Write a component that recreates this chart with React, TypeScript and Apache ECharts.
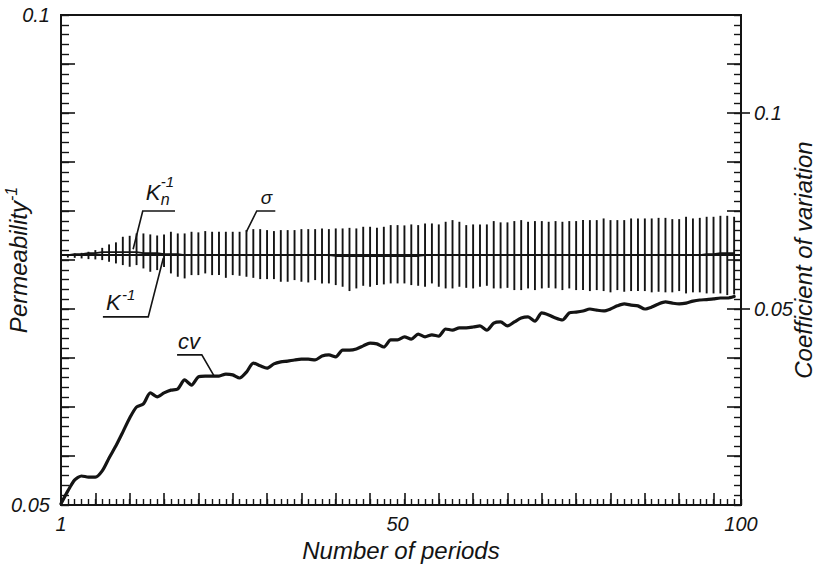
import React, { useEffect, useRef } from "react";
import * as echarts from "echarts";

// ---------------- data ----------------
const PERIODS: number[] = Array.from({ length: 99 }, (_, i) => i + 1);

const CV: number[] = [
  0.0003, 0.0036, 0.0064, 0.0074, 0.0071, 0.0071, 0.0087, 0.012, 0.0151, 0.0186,
  0.0222, 0.025, 0.0258, 0.0286, 0.0276, 0.0286, 0.0293, 0.0296, 0.0319, 0.0306,
  0.0327, 0.0329, 0.0329, 0.0329, 0.0334, 0.0332, 0.0324, 0.0339, 0.0362, 0.0355,
  0.0349, 0.036, 0.0365, 0.0367, 0.037, 0.0372, 0.0372, 0.037, 0.038, 0.0383,
  0.0378, 0.0395, 0.0395, 0.0398, 0.0406, 0.0413, 0.0411, 0.0403, 0.0421, 0.0421,
  0.0429, 0.0423, 0.0436, 0.0429, 0.0434, 0.0431, 0.0449, 0.0446, 0.0452, 0.0452,
  0.0454, 0.0457, 0.0446, 0.0464, 0.0467, 0.0457, 0.0467, 0.0477, 0.048, 0.0469,
  0.049, 0.0485, 0.0477, 0.0472, 0.049, 0.0492, 0.0495, 0.05, 0.0497, 0.0495,
  0.05, 0.0508, 0.0513, 0.051, 0.0508, 0.05, 0.0505, 0.0513, 0.0518, 0.0515,
  0.0513, 0.0515, 0.052, 0.0523, 0.0524, 0.0526, 0.0528, 0.0528, 0.0532,
];

const K_INV = 0.0755;
const K_INV_RANGE = [1, 100];

const KN_INV: number[] = [
  0.0755, 0.0755, 0.0756, 0.0756, 0.0757, 0.0757, 0.0758, 0.0758, 0.0758, 0.0758,
  0.0758, 0.0758, 0.0757, 0.0757, 0.0757, 0.0756, 0.0756, 0.0756, 0.0755, 0.0755,
  0.0755, 0.0755, 0.0755, 0.0755, 0.0755, 0.0755, 0.0755, 0.0755, 0.0755, 0.0755,
  0.0755, 0.0755, 0.0755, 0.0755, 0.0755, 0.0755, 0.0755, 0.0755, 0.0755, 0.0755,
  0.0754, 0.0754, 0.0754, 0.0754, 0.0754, 0.0754, 0.0754, 0.0754, 0.0754, 0.0754,
  0.0754, 0.0754, 0.0754, 0.0755, 0.0755, 0.0755, 0.0755, 0.0755, 0.0755, 0.0755,
  0.0755, 0.0755, 0.0755, 0.0755, 0.0755, 0.0755, 0.0755, 0.0755, 0.0755, 0.0755,
  0.0755, 0.0755, 0.0755, 0.0755, 0.0755, 0.0755, 0.0755, 0.0755, 0.0755, 0.0755,
  0.0755, 0.0755, 0.0755, 0.0755, 0.0755, 0.0755, 0.0755, 0.0755, 0.0755, 0.0755,
  0.0755, 0.0755, 0.0755, 0.0755, 0.0756, 0.0756, 0.0757, 0.0757, 0.0757,
];

const SIGMA_UPPER: number[] = [
  0.07555, 0.0756, 0.07567, 0.07573, 0.07584, 0.07601, 0.07624, 0.07659, 0.0768, 0.07737,
  0.07747, 0.07771, 0.07771, 0.07761, 0.0775, 0.07761, 0.07788, 0.07771, 0.07771, 0.07788,
  0.07782, 0.07795, 0.07788, 0.07788, 0.07788, 0.07788, 0.07788, 0.07805, 0.07815, 0.07815,
  0.07805, 0.07795, 0.07805, 0.07805, 0.07805, 0.07815, 0.07815, 0.07815, 0.07822, 0.07815,
  0.07822, 0.07822, 0.07828, 0.07822, 0.07839, 0.07839, 0.07828, 0.07839, 0.07856, 0.07856,
  0.07853, 0.07863, 0.07856, 0.07873, 0.07873, 0.07863, 0.0789, 0.07907, 0.0789, 0.07856,
  0.07863, 0.07863, 0.07863, 0.07897, 0.07884, 0.07884, 0.07897, 0.07907, 0.0789, 0.07897,
  0.07897, 0.0789, 0.07897, 0.0789, 0.07897, 0.07897, 0.07907, 0.07907, 0.07907, 0.07924,
  0.07907, 0.07907, 0.07907, 0.07924, 0.07924, 0.07924, 0.07924, 0.0793, 0.0793, 0.07917,
  0.07917, 0.07941, 0.07924, 0.0793, 0.07941, 0.07941, 0.07951, 0.07951, 0.07941,
];

const SIGMA_LOWER: number[] = [
  0.07545, 0.07525, 0.07522, 0.07516, 0.07509, 0.07506, 0.07499, 0.07482, 0.07465, 0.07448,
  0.07431, 0.07448, 0.07414, 0.0738, 0.07397, 0.07428, 0.07363, 0.07329, 0.07312, 0.07346,
  0.07346, 0.07363, 0.07346, 0.07346, 0.07318, 0.07346, 0.07339, 0.07329, 0.07318, 0.07305,
  0.07305, 0.07305, 0.07278, 0.07278, 0.07295, 0.07278, 0.07271, 0.07295, 0.07261, 0.07261,
  0.07244, 0.07227, 0.07183, 0.0721, 0.07237, 0.07227, 0.07244, 0.07251, 0.07261, 0.07261,
  0.07261, 0.07244, 0.07237, 0.07227, 0.07261, 0.07227, 0.0721, 0.0721, 0.07227, 0.07216,
  0.0721, 0.07227, 0.07237, 0.0721, 0.0721, 0.07216, 0.07193, 0.07193, 0.0721, 0.07193,
  0.0721, 0.07216, 0.0721, 0.07193, 0.0721, 0.07193, 0.07193, 0.07183, 0.07193, 0.07183,
  0.0717, 0.07193, 0.07176, 0.07183, 0.07183, 0.07183, 0.0717, 0.07176, 0.0717, 0.0717,
  0.07183, 0.07159, 0.0717, 0.0717, 0.07159, 0.07159, 0.07159, 0.07142, 0.07149,
];

const X_LABELS = [1, 50, 100];
const X_MAJOR_TICKS = [1, 6, 11, 16, 21, 26, 31, 36, 41, 46, 51, 56, 61, 66, 71, 76, 81, 86, 91, 96];
const X_MINOR_TICKS: number[] = Array.from({ length: 100 }, (_, i) => i + 1);
const LEFT_LABELS = [0.05, 0.1];
const LEFT_MINOR_TICKS: number[] = Array.from({ length: 51 }, (_, i) => +(0.05 + i * 0.001).toFixed(3));
const RIGHT_LABELS = [0.05, 0.1];
const RIGHT_MINOR_TICKS: number[] = Array.from({ length: 51 }, (_, i) => +(i * 0.0025).toFixed(4));

// leader lines for the curve labels, in data coordinates (x = period, y = axis value)
const LEADERS = [
  { yAxis: 0, points: [[17.6, 0.08], [12.9, 0.08], [11.5, 0.0761]] },
  { yAxis: 0, points: [[7.1, 0.0692], [13.7, 0.0692], [15.9, 0.0752]] },
  { yAxis: 0, points: [[32.2, 0.08], [29.5, 0.08], [28.0, 0.0779]] },
  { yAxis: 1, points: [[17.9, 0.0383], [21.5, 0.0383], [23.3, 0.0329]] },
];

const INK = "#141414";
const FONT = "'Liberation Sans', 'DejaVu Sans', sans-serif";

export default function App() {
  const ref = useRef<HTMLDivElement>(null);

  useEffect(() => {
    document.body.style.margin = "0";
    const chart = echarts.init(ref.current!, null, { renderer: "svg" });

    const tickLabel = {
      color: INK,
      fontFamily: FONT,
      fontStyle: "italic" as const,
      fontSize: 20,
    };
    const nameStyle = { ...tickLabel, fontSize: 24 };

    const minorAxis = (position: string, min: number, max: number, values: number[], length: number) => ({
      type: "value",
      min,
      max,
      position,
      axisLine: { show: false },
      axisTick: { show: true, inside: true, length, customValues: values, lineStyle: { color: INK, width: 1.4 } },
      axisLabel: { show: false },
      splitLine: { show: false },
    });

    const option: any = {
      animation: false,
      backgroundColor: "#fff",
      grid: {
        show: true,
        left: 61,
        right: 86,
        top: 15,
        bottom: 63,
        outerBoundsMode: "none",
        containLabel: false,
        borderColor: INK,
        borderWidth: 2,
        backgroundColor: "transparent",
      },
      xAxis: [
        {
          type: "value",
          min: 1,
          max: 100,
          position: "bottom",
          axisLine: { show: true, lineStyle: { color: INK, width: 2 } },
          axisTick: {
            show: true,
            inside: true,
            length: 12,
            customValues: X_MAJOR_TICKS,
            lineStyle: { color: INK, width: 1.6 },
          },
          axisLabel: { ...tickLabel, customValues: X_LABELS, margin: 9 },
          splitLine: { show: false },
          name: "Number of periods",
          nameLocation: "middle",
          nameGap: 33,
          nameMoveOverlap: false,
          nameTextStyle: nameStyle,
        },
        minorAxis("bottom", 1, 100, X_MINOR_TICKS, 6),
      ],
      yAxis: [
        {
          type: "value",
          min: 0.05,
          max: 0.1,
          interval: 0.005,
          position: "left",
          axisLine: { show: true, lineStyle: { color: INK, width: 2 } },
          axisTick: { show: true, inside: true, length: 14, lineStyle: { color: INK, width: 1.6 } },
          axisLabel: {
            ...tickLabel,
            customValues: LEFT_LABELS,
            margin: 11,
            formatter: (v: number) => String(v),
          },
          splitLine: { show: false },
          name: "{a|Permeability}{b|-1}",
          nameLocation: "middle",
          nameRotate: 90,
          nameGap: 31,
          nameMoveOverlap: false,
          nameTextStyle: {
            rich: {
              a: { fontFamily: FONT, fontStyle: "italic", fontSize: 24, color: INK, lineHeight: 27, verticalAlign: "bottom" },
              b: { fontFamily: FONT, fontStyle: "italic", fontSize: 16, color: INK, lineHeight: 27, verticalAlign: "top" },
            },
          },
        },
        {
          type: "value",
          min: 0,
          max: 0.125,
          interval: 0.0125,
          position: "right",
          axisLine: { show: true, lineStyle: { color: INK, width: 2 } },
          axisTick: { show: true, inside: true, length: 14, lineStyle: { color: INK, width: 1.6 } },
          axisLabel: { show: false },
          splitLine: { show: false },
          name: "Coefficient of variation",
          nameLocation: "middle",
          nameRotate: 90,
          nameGap: 50,
          nameMoveOverlap: false,
          nameTextStyle: nameStyle,
        },
        {
          type: "value",
          min: 0,
          max: 0.125,
          position: "right",
          axisLine: { show: false },
          axisTick: {
            show: true,
            inside: false,
            length: 9,
            customValues: RIGHT_LABELS,
            lineStyle: { color: INK, width: 1.6 },
          },
          axisLabel: {
            ...tickLabel,
            customValues: RIGHT_LABELS,
            margin: 13,
            formatter: (v: number) => String(v),
          },
          splitLine: { show: false },
        },
        minorAxis("left", 0.05, 0.1, LEFT_MINOR_TICKS, 8),
        minorAxis("right", 0, 0.125, RIGHT_MINOR_TICKS, 7),
      ],
      series: [
        {
          name: "sigma",
          type: "custom",
          xAxisIndex: 0,
          yAxisIndex: 0,
          encode: { x: 0, y: [1, 2] },
          data: PERIODS.map((p, i) => [p, SIGMA_LOWER[i], SIGMA_UPPER[i]]),
          renderItem: (_params: any, api: any) => {
            const a = api.coord([api.value(0), api.value(1)]);
            const b = api.coord([api.value(0), api.value(2)]);
            return {
              type: "line",
              shape: { x1: a[0], y1: a[1], x2: b[0], y2: b[1] },
              style: { stroke: INK, lineWidth: 1.9 },
            };
          },
          silent: true,
        },
        {
          name: "K-1",
          type: "line",
          xAxisIndex: 0,
          yAxisIndex: 0,
          data: K_INV_RANGE.map((p) => [p, K_INV]),
          symbol: "none",
          lineStyle: { color: INK, width: 2 },
          silent: true,
        },
        {
          name: "Kn-1",
          type: "line",
          xAxisIndex: 0,
          yAxisIndex: 0,
          data: PERIODS.map((p, i) => [p, KN_INV[i]]),
          symbol: "none",
          lineStyle: { color: INK, width: 1.6 },
          silent: true,
        },
        {
          name: "cv",
          type: "line",
          xAxisIndex: 0,
          yAxisIndex: 1,
          data: PERIODS.map((p, i) => [p, CV[i]]),
          symbol: "none",
          smooth: 0.25,
          lineStyle: { color: INK, width: 3.2, join: "round", cap: "round" },
          silent: true,
        },
      ],
    };

    chart.setOption(option);

    const toPx = (yAxis: number, pt: number[]) =>
      chart.convertToPixel({ xAxisIndex: 0, yAxisIndex: yAxis }, pt) as number[];

    const leaderPts = LEADERS.map((l) => l.points.map((pt) => toPx(l.yAxis, pt)));

    const txt = (text: string, x: number, y: number, size: number) => ({
      type: "text",
      x,
      y,
      silent: true,
      style: {
        text,
        x: 0,
        y: 0,
        fill: INK,
        fontFamily: FONT,
        fontStyle: "italic",
        fontSize: size,
        align: "left",
        verticalAlign: "middle",
      },
    });

    const knCorner = leaderPts[0][1];
    const kCorner = leaderPts[1][0];
    const sCorner = leaderPts[2][1];
    const cvCorner = leaderPts[3][0];

    const graphic: any[] = [
      ...leaderPts.map((pts) => ({
        type: "polyline",
        silent: true,
        shape: { points: pts },
        style: { stroke: INK, lineWidth: 1.6, fill: "none" },
      })),
      txt("K", knCorner[0] + 3, knCorner[1] - 19, 22),
      txt("n", knCorner[0] + 18, knCorner[1] - 12, 16),
      txt("-1", knCorner[0] + 18, knCorner[1] - 30, 15),
      txt("K", kCorner[0] + 3, kCorner[1] - 14, 22),
      txt("-1", kCorner[0] + 19, kCorner[1] - 22, 15),
      txt("σ", sCorner[0] + 4, sCorner[1] - 14, 19),
      txt("cv", cvCorner[0] + 1, cvCorner[1] - 13, 22),
    ];

    chart.setOption({ graphic });

    return () => chart.dispose();
  }, []);

  return (
    <div
      ref={ref}
      style={{ position: "fixed", left: 0, top: 0, width: 827, height: 568, background: "#fff" }}
    />
  );
}
